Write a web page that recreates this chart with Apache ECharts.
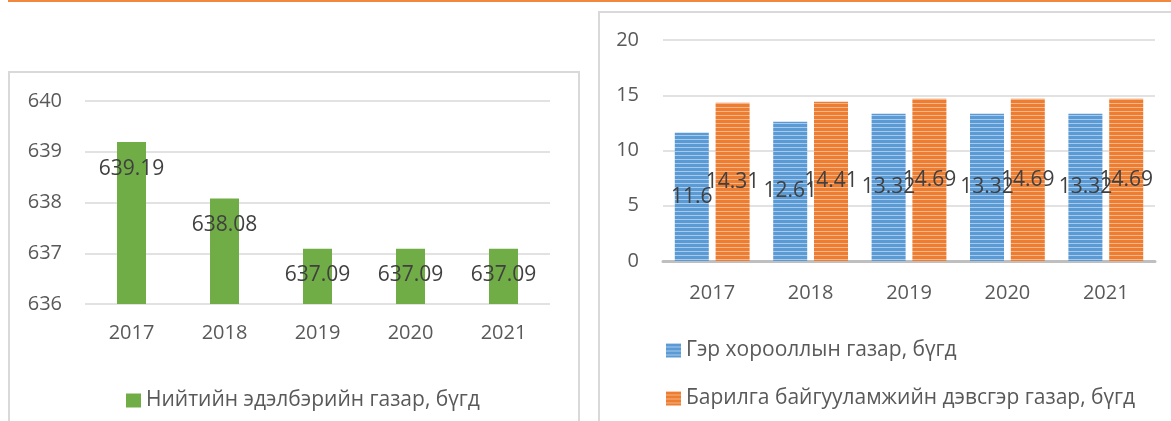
<!DOCTYPE html>
<html>
<head>
<meta charset="utf-8">
<script src="https://cdn.jsdelivr.net/npm/echarts@6/dist/echarts.min.js"></script>
<style>
html,body{margin:0;padding:0;background:#fff;}
#c{width:1171px;height:421px;}
</style>
</head>
<body>
<div id="c"></div>
<script>
// ---- data ----
const years = ['2017', '2018', '2019', '2020', '2021'];
const publicLandName = 'Нийтийн эдэлбэрийн газар, бүгд';
const publicLand = [639.19, 638.08, 637.09, 637.09, 637.09];
const gerName = 'Гэр хорооллын газар, бүгд';
const gerArea = [11.6, 12.61, 13.32, 13.32, 13.32];
const buildName = 'Барилга байгууламжийн дэвсгэр газар, бүгд';
const buildArea = [14.31, 14.41, 14.69, 14.69, 14.69];

function stripe(main, light) {
  const cv = document.createElement('canvas');
  cv.width = 4; cv.height = 4;
  const ctx = cv.getContext('2d');
  ctx.fillStyle = main; ctx.fillRect(0, 0, 4, 4);
  ctx.fillStyle = light; ctx.fillRect(0, 3, 4, 1);
  return { image: cv, repeat: 'repeat' };
}
const bluePat = stripe('#5B9BD5', '#A9C9EA');
const orangePat = stripe('#ED7D31', '#F6B58A');

const FONT = '"Open Sans", sans-serif';
const chart = echarts.init(document.getElementById('c'));
chart.setOption({
  animation: false,
  backgroundColor: '#fff',
  graphic: [
    { type: 'rect', shape: { x: 8, y: 0, width: 1163, height: 2 }, style: { fill: '#F0883E' }, silent: true },
    { type: 'rect', shape: { x: 9, y: 72, width: 570, height: 400 }, style: { fill: 'none', stroke: '#D9D9D9', lineWidth: 2 }, silent: true },
    { type: 'rect', shape: { x: 599, y: 12, width: 600, height: 420 }, style: { fill: 'none', stroke: '#D9D9D9', lineWidth: 2 }, silent: true }
  ],
  grid: [
    { left: 85, right: 621, top: 101, bottom: 117 },
    { left: 663, right: 16, top: 40, bottom: 160 }
  ],
  legend: [
    {
      data: [publicLandName], left: 121, top: 385, itemWidth: 15, itemHeight: 14, itemGap: 10,
      textStyle: { color: '#595959', fontSize: 21, fontFamily: FONT }, icon: 'rect'
    },
    {
      data: [gerName, buildName], orient: 'vertical', left: 661, top: 335, itemWidth: 15, itemHeight: 14, itemGap: 27,
      textStyle: { color: '#595959', fontSize: 21, fontFamily: FONT }, icon: 'rect'
    }
  ],
  xAxis: [
    {
      type: 'category', gridIndex: 0, data: years,
      axisLine: { show: false }, axisTick: { show: false },
      axisLabel: { color: '#595959', fontSize: 20, fontFamily: FONT, margin: 19 }
    },
    {
      type: 'category', gridIndex: 1, data: years,
      axisLine: { show: true, lineStyle: { color: '#BFBFBF', width: 3 } }, axisTick: { show: false },
      axisLabel: { color: '#595959', fontSize: 20, fontFamily: FONT, margin: 22 }
    }
  ],
  yAxis: [
    {
      type: 'value', gridIndex: 0, min: 636, max: 640, interval: 1,
      axisLine: { show: false }, axisTick: { show: false },
      axisLabel: { color: '#595959', fontSize: 20, fontFamily: FONT, margin: 23 },
      splitLine: { lineStyle: { color: '#D9D9D9', width: 1.5 } }
    },
    {
      type: 'value', gridIndex: 1, min: 0, max: 20, interval: 5,
      axisLine: { show: false }, axisTick: { show: false },
      axisLabel: { color: '#595959', fontSize: 20, fontFamily: FONT, margin: 24 },
      splitLine: { lineStyle: { color: '#D9D9D9', width: 1.5 } }
    }
  ],
  series: [
    {
      name: publicLandName, type: 'bar', xAxisIndex: 0, yAxisIndex: 0, data: publicLand,
      barWidth: 29, itemStyle: { color: '#70AD47' },
      label: { show: true, position: 'insideTop', offset: [0, 11], color: '#404040', fontSize: 21, fontFamily: FONT }
    },
    {
      name: gerName, type: 'bar', xAxisIndex: 1, yAxisIndex: 1, data: gerArea,
      barWidth: 34, barGap: '20%', itemStyle: { color: bluePat },
      label: { show: true, position: 'inside', color: '#404040', fontSize: 21, fontFamily: FONT }
    },
    {
      name: buildName, type: 'bar', xAxisIndex: 1, yAxisIndex: 1, data: buildArea,
      barWidth: 34, barGap: '20%', itemStyle: { color: orangePat },
      label: { show: true, position: 'inside', color: '#404040', fontSize: 21, fontFamily: FONT }
    }
  ]
});
</script>
</body>
</html>
